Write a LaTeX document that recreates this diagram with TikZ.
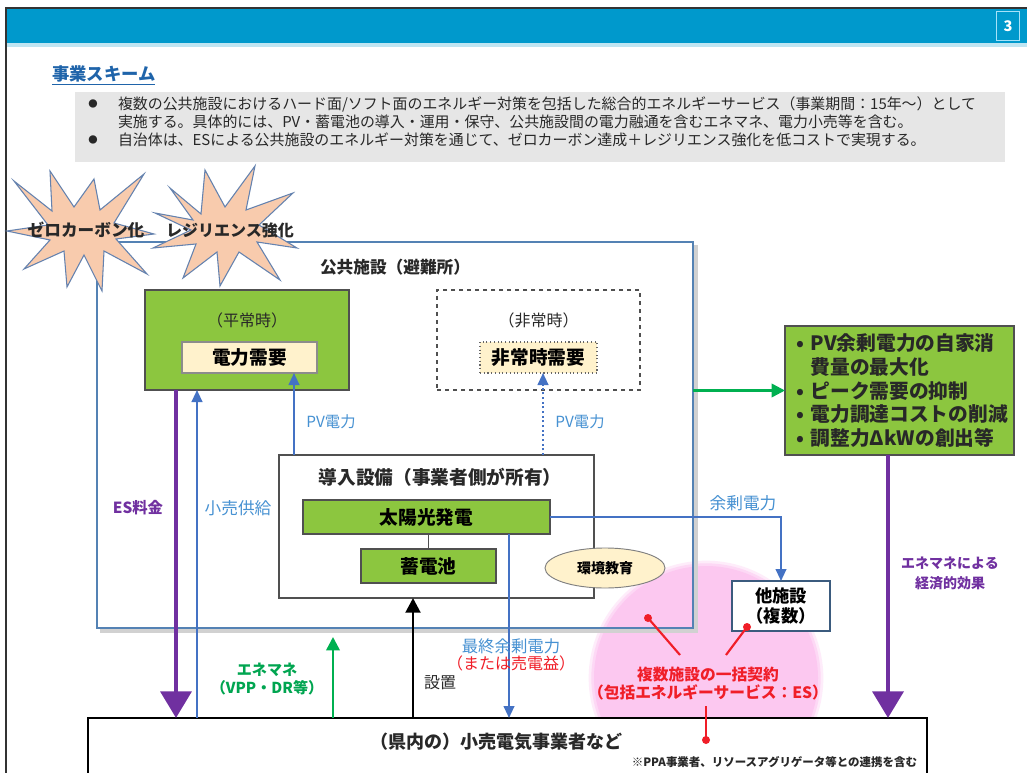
\documentclass[tikz,border=0pt]{standalone}
\usepackage{fontspec}
\setmainfont{Noto Sans CJK JP}
\usetikzlibrary{arrows.meta,shapes.geometric}
\definecolor{barblue}{RGB}{0,153,204}
\definecolor{titleblue}{RGB}{31,100,170}
\definecolor{graybg}{RGB}{230,230,230}
\definecolor{grn}{RGB}{140,198,63}
\definecolor{ltyellow}{RGB}{255,242,204}
\definecolor{peach}{RGB}{248,203,173}
\definecolor{stardraw}{RGB}{100,130,175}
\definecolor{steel}{RGB}{84,130,180}
\definecolor{arrblue}{RGB}{68,114,196}
\definecolor{txtblue}{RGB}{70,145,210}
\definecolor{purp}{RGB}{112,48,160}
\definecolor{arrgreen}{RGB}{0,176,80}
\definecolor{txtgreen}{RGB}{0,165,80}
\definecolor{redc}{RGB}{240,30,40}
\definecolor{pinkc}{RGB}{252,200,240}
\definecolor{boxgray}{RGB}{80,80,80}
\definecolor{txtdark}{RGB}{40,40,40}
\def\pxu{0.75pt}
\tikzset{
  bx/.style={rectangle, inner sep=0pt, outer sep=0pt},
  tx/.style={inner sep=0pt, outer sep=0pt, text=txtdark},
  greenbox/.style={bx, fill=grn, draw=boxgray, line width=1.1pt},
  yelbox/.style={bx, fill=ltyellow, draw=black!45, line width=0.8pt},
  arrb/.style={arrblue, line width=1.5pt, -{Triangle[width=8pt,length=9pt]}},
  arrg/.style={arrgreen, line width=1.9pt, -{Triangle[width=10pt,length=10pt]}},
  arrp/.style={purp, line width=3.6pt, -{Triangle[width=23pt,length=20pt]}},
  arrk/.style={black, line width=2.2pt, -{Triangle[width=11pt,length=11pt]}},
  redline/.style={redc, line width=1.6pt},
  starshape/.style={fill=peach, draw=stardraw, line width=0.8pt, line join=miter},
  f12/.style={font=\fontsize{12}{12}\selectfont},
  lbl/.style={font=\fontsize{11.5}{11.5}\selectfont},
  boxlbl/.style={font=\bfseries\fontsize{14}{14}\selectfont},
}
\begin{document}
\begin{tikzpicture}[x=0.75pt,y=-0.75pt]
\useasboundingbox (0,0) rectangle (1027,773);
\fill[white] (0,0) rectangle (1027,773);
% header bar
\fill[barblue] (6,8) rectangle (1027,43);
\fill[barblue!25] (6,43) rectangle (1027,47);
\draw[black!80, line width=1.8pt] (6,773) -- (6,8) -- (1027,8);
\node[bx, draw=cyan!35, line width=0.8pt, minimum width=17pt, minimum height=22pt, text=white, font=\bfseries\fontsize{11}{11}\selectfont] (pg) at (1008,26) {3};
% heading
\node[tx, anchor=west, text=titleblue, font=\bfseries\fontsize{13}{13}\selectfont] (head) at (52,75) {\underline{事業スキーム}};
% summary box
\node[bx, fill=graybg, minimum width=930*\pxu, minimum height=70*\pxu] (summary) at (540,127) {};
\node[tx, font=\fontsize{7}{7}\selectfont] (b1) at (93,104) {●};
\node[tx, font=\fontsize{7}{7}\selectfont] (b2) at (93,140) {●};
\node[tx, font=\fontsize{11.2}{11.2}\selectfont, anchor=west] (l1) at (118,104) {複数の公共施設におけるハード面/ソフト面のエネルギー対策を包括した総合的エネルギーサービス（事業期間：15年～）として};
\node[tx, font=\fontsize{11.2}{11.2}\selectfont, anchor=west] (l2) at (118,122) {実施する。具体的には、PV・蓄電池の導入・運用・保守、公共施設間の電力融通を含むエネマネ、電力小売等を含む。};
\node[tx, font=\fontsize{11.2}{11.2}\selectfont, anchor=west] (l3) at (118,140) {自治体は、ESによる公共施設のエネルギー対策を通じて、ゼロカーボン達成＋レジリエンス強化を低コストで実現する。};
% pink circle
\fill[pinkc!35!white] (706,678) circle[radius=88pt];
\fill[pinkc!70!white] (706,678) circle[radius=86pt];
\fill[pinkc] (706,678) circle[radius=84pt];
% public facility
\draw[black!18, line width=2.5pt] (100,631) -- (696,631) -- (696,245);
\node[bx, draw=steel, line width=1.1pt, minimum width=596*\pxu, minimum height=386*\pxu] (kokyo) at (395,435) {};
\node[tx, font=\bfseries\fontsize{12.5}{12.5}\selectfont] (kokyot) at (395,267) {公共施設（避難所）};
% normal
\node[greenbox, minimum width=204*\pxu, minimum height=100*\pxu] (heijo) at (247,340) {};
\node[tx, font=\fontsize{12}{12}\selectfont] (heijot) at (247,320) {（平常時）};
\node[yelbox, minimum width=135*\pxu, minimum height=31*\pxu, boxlbl] (denryoku) at (249.5,357.5) {電力需要};
% emergency
\node[bx, draw=boxgray, dashed, line width=1.4pt, minimum width=203*\pxu, minimum height=100*\pxu] (hijo) at (538.5,340) {};
\node[tx, font=\fontsize{12}{12}\selectfont] (hijot) at (538.5,320) {（非常時）};
\node[yelbox, dotted, draw=black!60, minimum width=117*\pxu, minimum height=31*\pxu, boxlbl] (hijojuyo) at (538.5,357.5) {非常時需要};
% equipment
\node[bx, fill=white, draw=boxgray, line width=1.1pt, minimum width=315*\pxu, minimum height=143*\pxu] (donyu) at (436.5,526.5) {};
\node[tx, boxlbl] (donyut) at (440,477) {導入設備（事業者側が所有）};
\node[greenbox, line width=0.8pt, minimum width=247*\pxu, minimum height=34*\pxu, boxlbl] (taiyo) at (426.5,517) {太陽光発電};
\node[greenbox, line width=0.8pt, minimum width=135*\pxu, minimum height=34*\pxu, boxlbl] (chikuden) at (428.5,566) {蓄電池};
\draw[boxgray, line width=0.6pt] (chikuden.north |- taiyo.south) -- (chikuden.north);
\node[ellipse, inner sep=0pt, fill=ltyellow, draw=black!50, line width=0.7pt, minimum width=120*\pxu, minimum height=40*\pxu, font=\bfseries\fontsize{10.5}{10.5}\selectfont] (kankyo) at (605,568) {環境教育};
% other facilities
\node[bx, fill=white, draw=steel!70!black, line width=1pt, minimum width=98*\pxu, minimum height=50*\pxu, align=center, font=\bfseries\fontsize{13}{15.5}\selectfont] (tashisetsu) at (781,606) {他施設\\（複数）};
% right effect box
\node[greenbox, minimum width=229*\pxu, minimum height=129*\pxu] (rbox) at (899.5,390.5) {};
\node[tx, anchor=north west, font=\bfseries\fontsize{14.8}{16.9}\selectfont] (rboxt) at (796,334) {\begin{tabular}{@{}l@{\hspace{5pt}}l@{}}•&PV余剰電力の自家消\\&費量の最大化\\•&ピーク需要の抑制\\•&電力調達コストの削減\\•&調整力ΔkWの創出等\end{tabular}};
% retail box
\node[bx, fill=white, draw=black, line width=1.1pt, minimum width=839*\pxu, minimum height=90*\pxu] (kouri) at (507.5,763) {};
\node[tx, font=\bfseries\fontsize{13.5}{13.5}\selectfont] (kourit) at (496,742) {（県内の）小売電気事業者など};
\node[tx, anchor=east, font=\bfseries\fontsize{8.6}{8.6}\selectfont] (note) at (917,762) {※PPA事業者、リソースアグリゲータ等との連携を含む};
% x positions
\coordinate (xES) at (176,0);
\coordinate (xKS) at (197,0);
\coordinate (xPV1) at (294,0);
\coordinate (xPV2) at (543,0);
\coordinate (xFS) at (509,0);
\coordinate (xSC) at (413,0);
\coordinate (xRP) at (888,0);
\coordinate (emtip) at (333,637);
% arrows
\draw[arrp] (heijo.south -| xES) -- (kouri.north -| xES);
\draw[arrb] (kouri.north -| xKS) -- (heijo.south -| xKS);
\draw[arrb] (donyu.north -| xPV1) -- (denryoku.south -| xPV1);
\draw[arrb, dotted] (donyu.north -| xPV2) -- (hijojuyo.south -| xPV2);
\draw[arrg] (kokyo.east |- rbox.west) -- (rbox.west);
\draw[arrp] (rbox.south -| xRP) -- (kouri.north -| xRP);
\draw[arrb] (taiyo.east) -| (tashisetsu.north);
\draw[arrb] (taiyo.south -| xFS) -- (kouri.north -| xFS);
\draw[arrk] (kouri.north -| xSC) -- (donyu.south -| xSC);
\draw[arrg] (kouri.north -| emtip) -- (emtip);
% labels
\node[tx, lbl, text=txtblue] (pv1) at (331,422) {PV電力};
\node[tx, lbl, text=txtblue] (pv2) at (580,422) {PV電力};
\node[tx, font=\bfseries\fontsize{11.5}{11.5}\selectfont, text=purp] (esfee) at (138,508) {ES料金};
\node[tx, font=\fontsize{12.5}{12.5}\selectfont, text=txtblue] (kourikyo) at (238,508) {小売供給};
\node[tx, font=\fontsize{12.5}{12.5}\selectfont, text=txtblue] (yojo) at (743,503) {余剰電力};
\node[tx, font=\fontsize{12.3}{12.3}\selectfont, text=txtblue] (saishu) at (511,646) {最終余剰電力};
\node[tx, font=\fontsize{12}{12}\selectfont, text=redc] (baiden) at (511,663) {（または売電益）};
\node[tx, f12] (setchi) at (440,683) {設置};
\node[tx, text=txtgreen, align=center, font=\bfseries\fontsize{11.3}{13.5}\selectfont] (enemane) at (267,679) {エネマネ\\（VPP・DR等）};
\node[tx, text=purp, align=center, font=\bfseries\fontsize{10.5}{15}\selectfont] (keizai) at (950,573) {エネマネによる\\経済的効果};
% red contract
\node[tx, text=redc, align=center, font=\bfseries\fontsize{11.8}{13.5}\selectfont] (keiyaku) at (708,684) {複数施設の一括契約\\（包括エネルギーサービス：ES）};
\coordinate (r1a) at (648,618);
\coordinate (r1b) at (680,655);
\coordinate (r2a) at (747,627);
\coordinate (r2b) at (726,655);
\coordinate (r3a) at (706,706);
\coordinate (r3b) at (706,740);
\draw[redline] (r1a) -- (r1b);
\draw[redline] (r2a) -- (r2b);
\draw[redline] (r3a) -- (r3b);
\fill[redc] (r1a) circle[radius=3pt];
\fill[redc] (r2a) circle[radius=3pt];
\fill[redc] (r3b) circle[radius=3pt];
% starbursts
\filldraw[starshape, shift={(82,229)}] (-68,-48) -- (-30,-18) -- (-32,-58) -- (-8,-22) -- (12,-50) -- (18,-19) -- (62,-55) -- (32,-6) -- (72,5) -- (34,10) -- (65,45) -- (22,22) -- (20,62) -- (2,26) -- (-15,58) -- (-18,22) -- (-58,40) -- (-32,11) -- (-75,2) -- (-34,-4) -- cycle;
\filldraw[starshape, shift={(225,228)}] (-55,-40) -- (-24,-14) -- (-20,-58) -- (0,-21) -- (30,-62) -- (21,-18) -- (68,-35) -- (34,-3) -- (72,20) -- (32,14) -- (55,52) -- (14,24) -- (-5,58) -- (-8,24) -- (-42,50) -- (-29,16) -- (-72,20) -- (-34,2) -- (-70,-15) -- (-32,-8) -- cycle;
\node[tx, font=\bfseries\fontsize{12.5}{12.5}\selectfont] (zero) at (86,230) {ゼロカーボン化};
\node[tx, font=\bfseries\fontsize{12}{12}\selectfont] (resil) at (230,230) {レジリエンス強化};
\end{tikzpicture}
\end{document}
